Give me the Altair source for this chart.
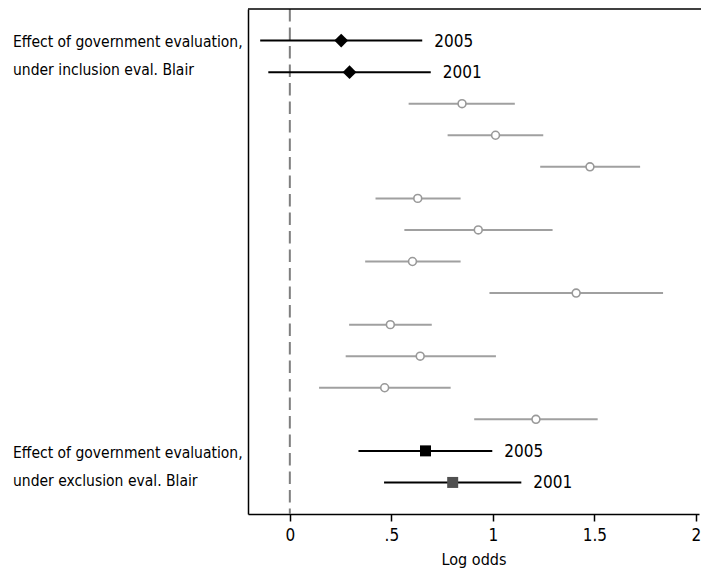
import altair as alt
import pandas as pd

# ---- data ----
rows = list(range(1, 16))
point = [0.253, 0.294, 0.848, 1.013, 1.478, 0.630, 0.928, 0.604, 1.410, 0.495, 0.642, 0.467, 1.212, 0.668, 0.802]
lo = [-0.146, -0.106, 0.585, 0.777, 1.233, 0.422, 0.564, 0.371, 0.983, 0.292, 0.275, 0.144, 0.908, 0.338, 0.464]
hi = [0.652, 0.694, 1.108, 1.248, 1.725, 0.841, 1.294, 0.841, 1.838, 0.699, 1.015, 0.792, 1.516, 0.997, 1.140]
group = ["incl", "incl"] + ["ctrl"] * 11 + ["excl05", "excl01"]
year = ["2005", "2001"] + [""] * 11 + ["2005", "2001"]

label_rows = [1.5, 14.5]
label_texts = [["Effect of government evaluation,", "under inclusion eval. Blair"],
               ["Effect of government evaluation,", "under exclusion eval. Blair"]]

x_ticks = [0, 0.5, 1, 1.5, 2]

df = pd.DataFrame({"row": rows, "point": point, "lo": lo, "hi": hi,
                   "group": group, "year": year})
lab = pd.DataFrame({"row": label_rows, "text": label_texts})

W, H = 451, 505
FONT = "DejaVu Sans Condensed, Liberation Sans Narrow, sans-serif"
FS = 15.5

xscale = alt.Scale(domain=[-0.206, 2.015], nice=False, zero=False)
yscale = alt.Scale(domain=[0, 16], reverse=True, nice=False, zero=False)

xaxis = alt.Axis(values=x_ticks, grid=False,
                 labelExpr="datum.value == 0.5 ? '.5' : toString(datum.value)",
                 domainColor="black", tickColor="black", tickSize=7,
                 domainWidth=1.5, tickWidth=1.5,
                 labelFont=FONT, labelFontSize=17, labelColor="black", labelPadding=6,
                 title="Log odds", titleFont=FONT, titleFontSize=16,
                 titleFontWeight="normal", titleColor="black", titlePadding=8)
yaxis = alt.Axis(labels=False, ticks=False, grid=False, title="",
                 domainColor="black", domainWidth=1.5)

base = alt.Chart(df)

zero_line = alt.Chart(pd.DataFrame({"z": [0]})).mark_rule(
    color="#7f7f7f", strokeWidth=2, strokeDash=[12.5, 6]
).encode(x=alt.X("z:Q", scale=xscale, axis=xaxis), y=alt.value(0), y2=alt.value(H))

top_line = alt.Chart(pd.DataFrame({"z": [0]})).mark_rule(color="black", strokeWidth=1.5).encode(
    x=alt.value(0), x2=alt.value(W + 2), y=alt.value(0))

def ci(filt, color):
    return base.transform_filter(filt).mark_rule(color=color, strokeWidth=2).encode(
        x=alt.X("lo:Q", scale=xscale, axis=xaxis),
        x2="hi:Q",
        y=alt.Y("row:Q", scale=yscale, axis=yaxis))

ci_ctrl = ci("datum.group == 'ctrl'", "#a0a0a0")
ci_main = ci("datum.group != 'ctrl'", "black")

pts_ctrl = base.transform_filter("datum.group == 'ctrl'").mark_point(
    shape="circle", filled=True, fill="white", stroke="#999999", strokeWidth=1.6, size=62, opacity=1
).encode(x=alt.X("point:Q", scale=xscale), y=alt.Y("row:Q", scale=yscale))

pts_incl = base.transform_filter("datum.group == 'incl'").mark_point(
    shape="diamond", filled=True, color="black", size=190, opacity=1
).encode(x=alt.X("point:Q", scale=xscale), y=alt.Y("row:Q", scale=yscale))

pts_ex05 = base.transform_filter("datum.group == 'excl05'").mark_point(
    shape="square", filled=True, color="black", size=121, opacity=1
).encode(x=alt.X("point:Q", scale=xscale), y=alt.Y("row:Q", scale=yscale))

pts_ex01 = base.transform_filter("datum.group == 'excl01'").mark_point(
    shape="square", filled=True, color="#505050", size=121, opacity=1
).encode(x=alt.X("point:Q", scale=xscale), y=alt.Y("row:Q", scale=yscale))

years = base.transform_filter("datum.year != ''").mark_text(
    align="left", baseline="middle", dx=12, dy=1, font=FONT, fontSize=17, color="black"
).encode(x=alt.X("hi:Q", scale=xscale), y=alt.Y("row:Q", scale=yscale), text="year:N")

side = alt.Chart(lab).mark_text(
    align="left", baseline="middle", dy=-14, font=FONT, fontSize=FS, lineHeight=28, color="black"
).encode(x=alt.value(-235), y=alt.Y("row:Q", scale=yscale), text="text")

chart = alt.layer(zero_line, top_line, ci_ctrl, ci_main, pts_ctrl, pts_incl, pts_ex05, pts_ex01,
                  years, side).properties(
    width=W, height=H,
    autosize=alt.AutoSizeParams(type="none"),
    padding={"left": 240, "top": 1, "right": 2, "bottom": 64},
).configure_view(stroke=None)

chart.save("out.html", embed_options={"renderer": "svg", "actions": False})
